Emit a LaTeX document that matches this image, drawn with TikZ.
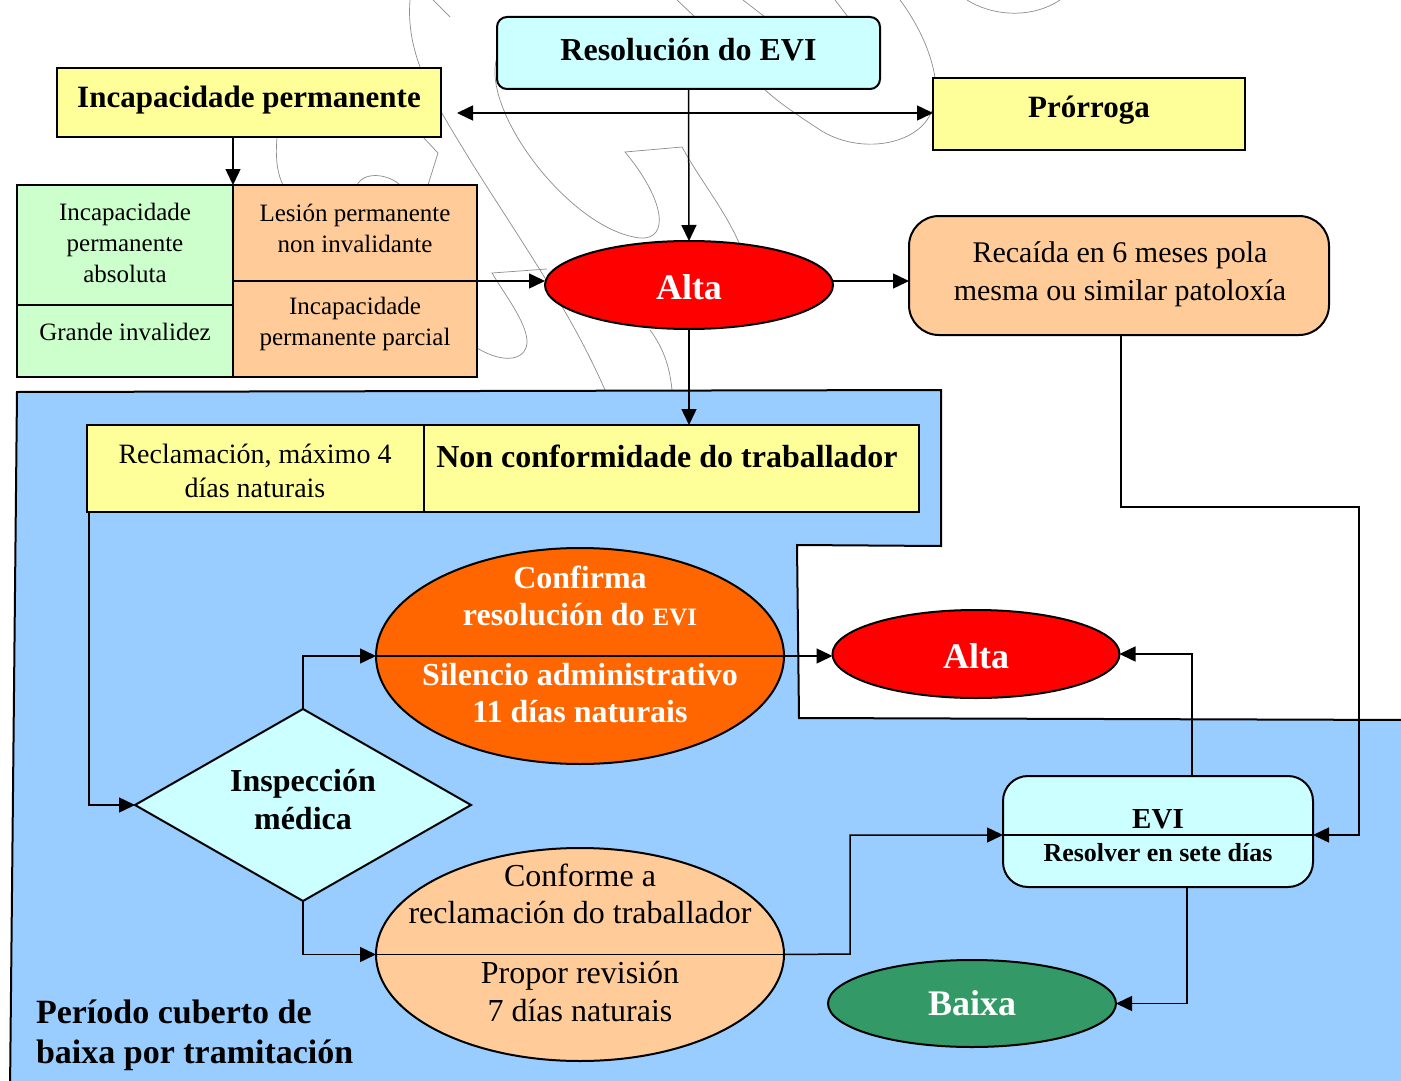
\documentclass[tikz,border=0pt]{standalone}
\usepackage{fontspec}
\setmainfont{Liberation Serif}
\usetikzlibrary{arrows.meta,shapes.geometric}
\definecolor{cyanb}{HTML}{CCFFFF}
\definecolor{yelb}{HTML}{FFFF99}
\definecolor{greenb}{HTML}{CCFFCC}
\definecolor{peachb}{HTML}{FFCC99}
\definecolor{blueb}{HTML}{99CCFF}
\definecolor{redb}{HTML}{FF0000}
\definecolor{orangeb}{HTML}{FF6600}
\definecolor{dgreenb}{HTML}{339966}
\newcommand\myfs[2]{\fontsize{#1}{#2}\selectfont}
\begin{document}
\begin{tikzpicture}[x=1pt,y=-1pt,
  boxst/.style={draw,line width=2pt,inner sep=0pt,outer sep=0pt},
  rbox/.style={boxst,rectangle},
  ell/.style={boxst,ellipse},
  txt/.style={inner sep=0pt,outer sep=0pt,align=center},
  arr/.style={line width=1.5pt,-{Triangle[length=16pt,width=15pt]}},
  dbl/.style={line width=1.5pt,{Triangle[length=16pt,width=15pt]}-{Triangle[length=16pt,width=15pt]}},
  ln/.style={line width=1.5pt},
  wm/.style={draw=black!45,line width=0.7pt}]
\useasboundingbox[fill=white] (0,0) rectangle (1401,1081);

% watermark scribbles
\draw[wm] (410,0) .. controls (405,60) and (440,110) .. (470,160) .. controls (520,240) and (570,310) .. (605,390);
\draw[wm] (497,57) .. controls (480,110) and (570,230) .. (640,238) .. controls (670,240) and (665,200) .. (625,152) -- (682,147) .. controls (700,180) and (725,210) .. (740,245);
\draw[wm] (900,0) .. controls (930,40) and (945,90) .. (930,115) .. controls (915,145) and (860,155) .. (820,130) .. controls (790,110) and (775,100) .. (760,85);
\draw[wm] (677,0) -- (695,17);
\draw[wm] (743,0) -- (765,17);
\draw[wm] (835,0) -- (848,17);
\draw[wm] (433,0) -- (450,17);
\draw[wm] (967,0) .. controls (990,15) and (1030,20) .. (1060,0);
\draw[wm] (277,138) .. controls (275,160) and (278,175) .. (283,185);
\draw[wm] (423,137) -- (438,153) -- (428,185);
\draw[wm] (357,185) .. controls (365,170) and (390,175) .. (400,185);
\draw[wm] (547,269) -- (492,273) .. controls (505,295) and (525,320) .. (527,340) .. controls (528,360) and (505,365) .. (477,348);
\draw[wm] (650,330) .. controls (665,350) and (670,370) .. (672,390);

% blue region
\draw[line width=2pt,fill=blueb] (17,392) -- (941,390) -- (941,546) -- (797,545) -- (799,718) -- (1412,720) -- (1412,1092) -- (10,1092) -- cycle;

% top nodes
\node[rbox,fill=cyanb,rounded corners=10pt,minimum width=383pt,minimum height=72pt] (res) at (688.5,53) {};
\node[rbox,fill=yelb,minimum width=384pt,minimum height=69pt] (incp) at (249,102.5) {};
\node[rbox,fill=yelb,minimum width=312pt,minimum height=72pt] (pror) at (1089,114) {};
\node[txt,font=\myfs{32}{38}\bfseries] (tres) at (688.5,50) {Resolución do EVI};
\node[txt,font=\myfs{31}{37}\bfseries] (tincp) at (249,100) {Incapacidade permanente};
\node[txt,font=\myfs{31}{37}\bfseries] (tpror) at (1089,110) {Prórroga};

% grid
\node[rbox,fill=greenb,minimum width=216pt,minimum height=120pt] (g1) at (125,245) {};
\node[rbox,fill=greenb,minimum width=216pt,minimum height=72pt] (g2) at (125,341) {};
\node[rbox,fill=peachb,minimum width=244pt,minimum height=96pt] (o1) at (355,233) {};
\node[rbox,fill=peachb,minimum width=244pt,minimum height=96pt] (o2) at (355,329) {};
\node[txt,font=\myfs{25}{31}] (tg1) at (125,243) {Incapacidade\\permanente\\absoluta};
\node[txt,font=\myfs{25}{31}] (tg2) at (125,332) {Grande invalidez};
\node[txt,font=\myfs{25}{31}] (to1) at (355,228) {Lesión permanente\\non invalidante};
\node[txt,font=\myfs{25}{31}] (to2) at (355,324) {Incapacidade\\permanente parcial};

% Alta 1 and Recaida
\node[ell,fill=redb,minimum width=288pt,minimum height=88pt] (alta1) at (689,285) {};
\node[txt,text=white,font=\myfs{36}{42}\bfseries] (talta1) at (689,287) {Alta};
\node[rbox,fill=peachb,rounded corners=30pt,minimum width=420pt,minimum height=119pt] (rec) at (1119,275.5) {};
\node[txt,font=\myfs{30}{38}] (trec) at (1120,274) {Recaída en 6 meses pola\\mesma ou similar patoloxía};

% yellow boxes in blue area
\node[rbox,fill=yelb,minimum width=337pt,minimum height=87pt] (recl) at (255.5,468.5) {};
\node[rbox,fill=yelb,minimum width=495pt,minimum height=87pt] (non) at (671.5,468.5) {};
\node[txt,font=\myfs{28}{34}] (trecl) at (255,471) {Reclamación, máximo 4\\días naturais};
\node[txt,font=\myfs{32}{38}\bfseries] (tnon) at (667,456) {Non conformidade do traballador};

% orange ellipse
\node[ell,fill=orangeb,minimum width=408pt,minimum height=216pt] (oe) at (580,656) {};
\draw[ln] (oe.west) -- (oe.east);
\node[txt,text=white,font=\myfs{32}{37}\bfseries] (toe1) at (580,596) {Confirma\\resolución do {\fontsize{25}{30}\selectfont EVI}};
\node[txt,text=white,font=\myfs{32}{37}\bfseries] (toe2) at (580,693.5) {Silencio administrativo\\11 días naturais};

% Alta 2
\node[ell,fill=redb,minimum width=287pt,minimum height=88pt] (alta2) at (976,654) {};
\node[txt,text=white,font=\myfs{36}{42}\bfseries] (talta2) at (976,656) {Alta};

% diamond
\node[boxst,diamond,fill=cyanb,minimum width=336pt,minimum height=192pt] (dia) at (303,805) {};
\node[txt,font=\myfs{32}{38}\bfseries] (tdia) at (303,800) {Inspección\\médica};

% peach ellipse
\node[ell,fill=peachb,minimum width=408pt,minimum height=213pt] (pe) at (580,954.5) {};
\draw[ln] (pe.west) -- (pe.east);
\node[txt,font=\myfs{32}{37}] (tpe1) at (580,894) {Conforme a\\reclamación do traballador};
\node[txt,font=\myfs{32}{38}] (tpe2) at (580,992) {Propor revisión\\7 días naturais};

% EVI box
\node[rbox,fill=cyanb,rounded corners=25pt,minimum width=310pt,minimum height=111pt] (evi) at (1158,831.5) {};
\path (evi.west) ++(0,3.5) coordinate (evil);
\path (evi.east) ++(0,3.5) coordinate (evir);
\draw[ln] (evil) -- (evir);
\node[txt,font=\myfs{29}{34}\bfseries] (tevi1) at (1158,819) {EVI};
\node[txt,font=\myfs{26}{30}\bfseries] (tevi2) at (1158,853) {Resolver en sete días};

% Baixa
\node[ell,fill=dgreenb,minimum width=288pt,minimum height=87pt] (baixa) at (972,1003.5) {};
\node[txt,text=white,font=\myfs{36}{42}\bfseries] (tbaixa) at (972,1003) {Baixa};

% label
\node[txt,anchor=west,align=left,font=\myfs{34}{40}\bfseries] (tper) at (36,1035) {Período cuberto de\\baixa por tramitación};

% connectors
\coordinate (hl) at (457,113);
\draw[dbl] (hl) -- (hl -| pror.west);
\draw[arr] (res.south) -- (alta1.north);
\draw[arr] (incp.south -| o1.north west) -- (o1.north west);
\draw[arr] (o1.south east) -- (alta1.west |- o1.south east);
\draw[arr] (alta1.east |- 0,281) -- (rec.west |- 0,281);
\draw[arr] (alta1.south) -- (alta1.south |- non.north);
\coordinate (c1) at (1359,507);
\draw[arr] ([xshift=2pt]rec.south) |- (c1) |- (evir);
\draw[arr] ([xshift=2pt]recl.south west) |- (dia.west);
\draw[arr] (dia.north) |- (oe.west);
\draw[arr] (oe.east) -- (alta2.west |- oe.east);
\draw[arr] ([xshift=34pt]evi.north) |- (alta2.east);
\draw[arr] (dia.south) |- (pe.west);
\coordinate (c2) at (850,954);
\draw[arr] (pe.east) -- (c2) |- (evil);
\draw[arr] ([xshift=29pt]evi.south) |- (baixa.east);
\end{tikzpicture}
\end{document}
